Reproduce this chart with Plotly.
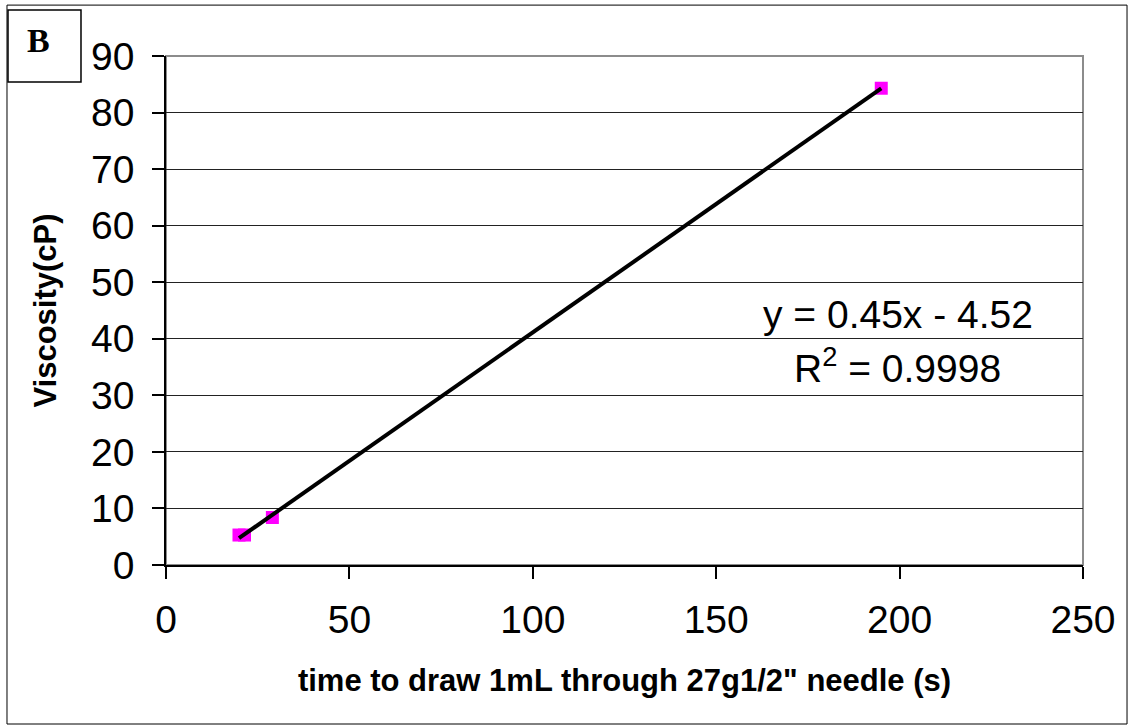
import numpy as np
import plotly.graph_objects as go

# Data
time_s = [19.9, 21.4, 29.0, 195.0]
viscosity_cp = [5.3, 5.3, 8.4, 84.3]

x_ticks = [0, 50, 100, 150, 200, 250]
y_ticks = [0, 10, 20, 30, 40, 50, 60, 70, 80, 90]

eq_text = "y = 0.45x - 4.52"
r2_text = "R<sup>2</sup> = 0.9998"
panel_label = "B"
x_title = "time to draw 1mL through 27g1/2\" needle (s)"
y_title = "Viscosity(cP)"

# Linear trend line from the data
slope, intercept = np.polyfit(time_s, viscosity_cp, 1)
trend_x = [min(time_s), max(time_s)]
trend_y = [slope * v + intercept for v in trend_x]

fig = go.Figure()
fig.add_trace(go.Scatter(
    x=time_s, y=viscosity_cp, mode="markers",
    marker=dict(symbol="square", size=13, color="#FF00FF", line=dict(width=0)),
    showlegend=False, cliponaxis=False,
))
fig.add_trace(go.Scatter(
    x=trend_x, y=trend_y, mode="lines",
    line=dict(color="black", width=4),
    showlegend=False,
))

tick_font = dict(family="Liberation Sans, Arial", size=39, color="black")
title_font = dict(family="Liberation Sans, Arial", size=31, color="black")

fig.update_layout(
    width=1130, height=727,
    margin=dict(l=166, r=47, t=56, b=162),
    paper_bgcolor="white", plot_bgcolor="white",
    xaxis=dict(
        range=[0, 250], tickvals=x_ticks, ticktext=[str(v) for v in x_ticks],
        showgrid=False, zeroline=False,
        showline=True, linecolor="black", linewidth=1.5,
        ticks="outside", ticklen=12, tickwidth=1.5, tickcolor="black",
        tickfont=tick_font, ticklabelstandoff=7,
        title=dict(text="<b>" + x_title + "</b>", font=title_font, standoff=30),
    ),
    yaxis=dict(
        range=[0, 90], tickvals=y_ticks, ticktext=[str(v) for v in y_ticks],
        showgrid=True, gridcolor="#222222", gridwidth=1,
        zeroline=False,
        showline=True, linecolor="black", linewidth=1.5,
        ticks="outside", ticklen=12, tickwidth=1.5, tickcolor="black",
        tickfont=tick_font, ticklabelstandoff=10,
        title=dict(text="<b>" + y_title + "</b>", font=title_font, standoff=25),
    ),
    shapes=[
        # outer frame
        dict(type="rect", xref="paper", yref="paper",
             x0=-0.1734, x1=1.048, y0=-0.3124, y1=1.100,
             line=dict(color="black", width=1), fillcolor="rgba(0,0,0,0)", layer="below"),
        # plot area border (top/right gray)
        dict(type="rect", xref="paper", yref="paper",
             x0=0, x1=1, y0=0, y1=1,
             line=dict(color="#8c8c8c", width=2), fillcolor="rgba(0,0,0,0)", layer="below"),
        # panel label box
        dict(type="rect", xref="paper", yref="paper",
             x0=-0.1723, x1=-0.0927, y0=0.949, y1=1.0904,
             line=dict(color="black", width=1.5), fillcolor="white"),
    ],
    annotations=[
        dict(text="<b>" + panel_label + "</b>", xref="paper", yref="paper",
             x=-0.1385, y=1.030, showarrow=False, xanchor="center", yanchor="middle",
             font=dict(family="Liberation Serif, Times New Roman", size=34, color="black")),
        dict(text=eq_text, xref="paper", yref="paper",
             x=0.798, y=0.493, showarrow=False, xanchor="center", yanchor="middle",
             font=tick_font),
        dict(text=r2_text, xref="paper", yref="paper",
             x=0.798, y=0.392, showarrow=False, xanchor="center", yanchor="middle",
             font=tick_font),
    ],
)

fig.write_html("out.html", config={"displayModeBar": False},
               post_script="document.body.style.margin='0';")
